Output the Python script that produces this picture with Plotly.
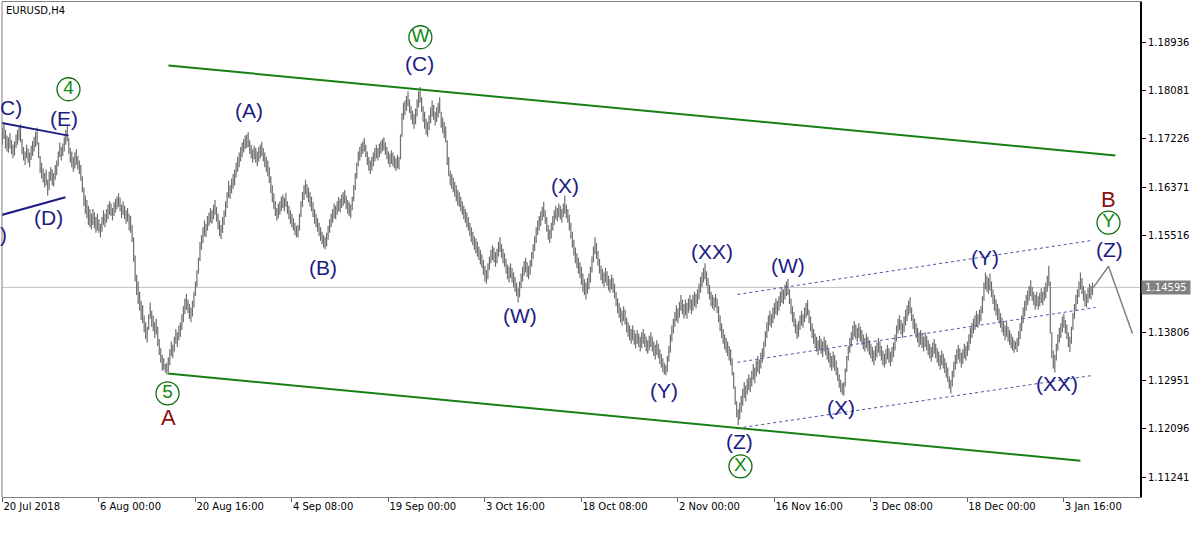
import plotly.graph_objects as go

# ---------------- DATA (EURUSD H4, prices in pips above 1.10000) ----------------
jul_high = [742,750,738,728,725,732,720,712,718,730, 738,744,748,722,708,700,712,705,698,710,
            718,726,735,742,716,692,680,670,662,668, 650,664,672,668,662,676,684,700,716,708,
            714,726,738,747,724,706]
jul_low = [712,722,705,700,698,705,695,688,693,706, 712,720,716,695,684,676,688,680,672,685,
           692,700,708,712,688,662,652,645,636,640, 622,632,648,640,638,650,658,674,690,684,
           692,700,712,718,696,680]

aug_high = [700,690,698,704,692,684,676,656,636,622, 614,604,598,590,598,592,584,590,580,572,
            584,596,590,598,606,612,608,600,610,616, 620,626,618,606,612,604,596,600,590,586,
            570,548,516,482,470,452,436,428,410,398, 390,412,433,418,410,398,404,390,368,352,
            340,334,324,326,336,350,364,358,372,386, 380,392,398,412,426,440,448,438,430,424,
            436,452,470,490,512,540,552,566,578,572, 586,592,600,596,606,614,602,590,578,570,
            584,596,612,628,648,640,652,660,668,680, 690,698,708,716,722,728,730,734,720,712,
            704,710,706,700,708,712,717,706,698,690, 684,672,656,640,626,612,600,608]
aug_low = [672,664,670,676,668,660,648,628,604,590, 582,570,566,562,570,564,556,560,556,548,
           558,570,566,574,580,588,586,578,586,592, 598,602,594,582,588,580,572,576,560,556,
           540,505,470,446,430,418,402,396,380,368, 362,384,404,390,382,370,376,356,340,326,
           312,314,309,306,310,322,338,334,346,360, 354,366,372,384,398,412,420,414,404,398,
           408,424,444,460,484,506,526,538,550,548, 560,568,574,572,580,588,576,562,550,545,
           556,570,584,600,618,616,626,634,640,654, 664,672,682,690,698,704,706,708,696,688,
           680,686,680,674,682,688,692,682,672,664, 656,644,626,610,598,586,578,582]

sep_high = [612,620,624,618,627,612,604,596,590,582, 574,568,570,590,612,628,640,650,642,636,
            628,620,610,598,590,582,574,566,558,552, 548,556,568,580,590,598,608,604,612,620,
            616,624,628,632,622,614,610,606,620,640, 662,680,700,708,714,718,724,712,700,690,
            684,690,698,706,712,706,714,718,722,725, 716,708,700,696,702,698,692,688,694,690,
            730,768,786,790,798,806,792,780,772,766, 776,792,806,814,796,780,770,758,752,764,
            778,790,782,770,778,786,796,770,760,752, 744,720,690,666,660,654,646,640,632,628]
sep_low = [588,594,600,594,602,590,580,572,566,560, 552,548,548,560,584,602,614,624,618,610,
           602,594,584,572,566,558,550,542,536,530, 527,532,544,556,566,574,582,580,588,594,
           592,600,604,608,598,590,586,582,596,612, 632,652,674,684,690,696,700,690,676,666,
           660,666,674,682,688,684,690,696,700,702, 694,686,678,672,678,674,670,666,670,668,
           686,726,756,764,772,780,768,756,748,740, 748,762,778,786,770,752,740,730,726,738,
           750,762,756,746,752,760,768,742,732,724, 716,676,656,640,634,628,620,612,604,602]

oct_high = [620,612,604,598,592,584,574,566,558,550, 546,540,532,526,518,508,498,490,502,514,
            526,534,530,522,528,540,548,536,528,520, 510,500,496,502,494,486,478,468,458,470,
            484,496,506,512,504,498,508,522,536,550, 566,578,586,594,602,611,596,584,570,562,
            574,586,596,604,600,608,604,598,608,622, 606,598,588,574,558,544,530,520,512,504,
            496,484,474,468,476,484,496,514,532,548, 538,524,510,498,492,486,494,488,480,474,
            482,476,466,452,440,432,424,418,426,420, 406,398,392,386,392,384,378,384,378,372,
            380,386,378,372,366,374,380,372,364,358, 366,360,350,342,334,326,322,338]
oct_low = [594,588,580,574,566,560,550,540,534,526, 520,514,508,500,494,482,470,466,474,490,
           502,508,504,496,502,514,522,512,502,496, 484,474,468,476,468,460,452,444,433,442,
           458,470,480,486,478,474,482,496,510,524, 538,552,560,568,578,584,572,558,544,538,
           546,560,570,580,576,584,580,574,584,590, 582,574,560,546,530,516,502,494,484,476,
           464,452,446,438,448,456,468,486,504,518, 510,498,484,472,466,460,468,462,454,450,
           456,450,440,426,414,406,398,392,400,394, 380,372,366,360,366,358,352,360,354,346,
           352,360,354,346,342,348,354,346,338,332, 340,334,324,318,310,306,304,310]

nov_high = [356,376,392,404,416,428,422,434,446,438, 430,438,432,440,446,438,446,452,448,456,
            466,478,486,494,502,488,476,464,452,446, 442,448,440,426,410,396,386,376,370,364,
            356,350,334,310,284,258,244,256,268,280, 292,286,298,306,300,312,324,318,330,338,
            332,344,352,364,382,398,410,418,412,424, 432,440,436,444,452,460,456,464,470,475,
            456,440,426,416,404,394,400,410,418,412, 424,432,437,420,408,396,386,378,372,366,
            374,368,364,372,366,358,350,344,338,346, 340,330,318,306,296,290,292,316,338,356,
            370,380,392,400,394,388,396,390,384,376, 370,378]
nov_low = [328,344,364,378,390,400,396,406,418,412, 404,410,404,414,420,412,418,426,422,430,
           438,450,460,468,474,462,448,438,426,422, 418,424,414,398,382,370,360,350,344,338,
           330,322,304,280,252,230,216,226,238,250, 264,258,270,278,274,284,296,290,302,310,
           306,316,326,336,354,370,382,392,388,396, 404,412,410,418,426,432,430,438,444,446,
           430,412,398,390,378,368,372,384,392,388, 398,406,410,396,382,370,360,352,346,340,
           348,342,336,346,340,332,326,318,312,318, 312,304,294,282,274,270,268,284,310,330,
           344,354,366,372,368,362,370,364,358,350, 346,352]

dec_high = [372,366,360,354,348,356,362,370,364,356, 348,342,350,358,352,346,354,362,376,392,
            404,410,402,396,408,420,428,436,442,424, 412,404,396,388,380,384,378,372,380,374,
            366,360,354,362,368,360,352,346,340,348, 342,334,326,318,302,296,312,328,340,350,
            358,352,344,350,360,356,364,376,388,396, 404,410,418,412,420,426,444,468,486,480,
            476,484,470,456,446,438,430,422,414,406, 400,392,398,390,384,378,372,366,364,370,
            382,396,410,424,436,446,454,462,472,460, 452,446,452,444,450,458,452,460,468,480]
dec_low = [346,340,334,328,322,330,336,344,338,330, 322,318,324,332,326,320,328,336,348,364,
           378,384,376,370,380,392,400,410,414,400, 386,378,370,362,354,358,352,346,354,348,
           340,334,328,336,342,334,326,320,314,322, 316,308,300,292,280,272,284,300,314,324,
           332,326,318,324,334,330,338,348,360,370, 378,384,390,388,394,400,414,436,456,452,
           448,454,442,430,418,410,402,396,388,380, 374,366,372,364,358,352,348,344,350,345,
           356,368,382,396,408,418,428,436,444,436, 428,420,426,420,426,432,428,436,440,452]

jan_high = [498,470,380,348,340,360,376,388,396,408, 413,402,394,380,372,390,414,430,446,456,
            470,486,476,462,454,448,458,466,462,468]
jan_low = [462,378,334,316,309,330,348,362,370,380, 388,378,368,354,345,360,384,404,418,430,
           442,456,448,436,426,424,432,440,438,446]

last_price = 1.14595

date_tick_index = [0, 64, 128, 192, 256, 320, 384, 448, 512, 576, 640, 704]
date_tick_text = ["20 Jul 2018", "6 Aug 00:00", "20 Aug 16:00", "4 Sep 08:00", "19 Sep 00:00",
                  "3 Oct 16:00", "18 Oct 08:00", "2 Nov 00:00", "16 Nov 16:00", "3 Dec 08:00",
                  "18 Dec 00:00", "3 Jan 16:00"]
price_ticks = [1.18936, 1.18081, 1.17226, 1.16371, 1.15516, 1.13806, 1.12951, 1.12096, 1.11241]

# analyst drawings (bar index, pips above 1.10000)
green_upper = ([110.1, 738.2], [852, 693])
green_lower = ([109.6, 715.0], [307, 153])
triangle_upper = ([-1.3, 43.8], [751, 728])
triangle_lower = ([-1.3, 41.8], [587, 619])
dotted_upper = ([487.5, 723.6], [447, 543])
dotted_middle = ([487.5, 725.0], [327, 424])
dotted_lower = ([491.5, 723.6], [212, 304])
projection = ([723.6, 733.6, 749.5], [459.5, 497, 378])

wave_labels = [("(D)", 30.5, 583), ("(E)", 41.1, 758), ("(A)", 163.2, 773), ("(B)", 212.9, 495),
               ("(C)", 276.6, 856), ("(W)", 343.6, 410), ("(X)", 372.8, 640), ("(Y)", 439.1, 277),
               ("(XX)", 470.9, 523), ("(Z)", 488.8, 187), ("(W)", 520.7, 498), ("(X)", 556.5, 247),
               ("(Y)", 652.0, 513), ("(XX)", 699.7, 290), ("(Z)", 734.2, 527)]
red_labels = [("A", 110.1, 229), ("B", 733.6, 615)]
circle_labels = [("4", 43.8, 810), ("5", 109.5, 272), ("W", 277.2, 902), ("X", 489.5, 143), ("Y", 733.6, 574)]
cut_labels = [("C)", 778), (")", 553)]

# ---------------- BUILD ----------------
def px(v):
    return 1.1 + v / 10000.0

bar_high = jul_high + aug_high + sep_high + oct_high + nov_high + dec_high + jan_high
bar_low = jul_low + aug_low + sep_low + oct_low + nov_low + dec_low + jan_low
bar_index = list(range(len(bar_high)))

seg_x, seg_y = [], []
for i, h, l in zip(bar_index, bar_high, bar_low):
    seg_x += [i, i, None]
    seg_y += [px(l), px(h), None]

fig = go.Figure()
fig.add_trace(go.Scatter(x=seg_x, y=seg_y, mode="lines", line=dict(color="#6e6e6e", width=1.2),
                         hoverinfo="skip", showlegend=False))

def add_line(pts, color, width, dash="solid"):
    fig.add_trace(go.Scatter(x=pts[0], y=[px(v) for v in pts[1]], mode="lines",
                             line=dict(color=color, width=width, dash=dash),
                             hoverinfo="skip", showlegend=False))

add_line(green_upper, "#168016", 2)
add_line(green_lower, "#168016", 2)
add_line(triangle_upper, "#1c1c84", 2)
add_line(triangle_lower, "#1c1c84", 2)
add_line(dotted_upper, "#5050a8", 1, "dot")
add_line(dotted_middle, "#5050a8", 1, "dot")
add_line(dotted_lower, "#5050a8", 1, "dot")
add_line(projection, "#808080", 1.5)

fig.add_trace(go.Scatter(
    x=[c[1] for c in circle_labels], y=[px(c[2]) for c in circle_labels],
    mode="markers+text", text=[c[0] for c in circle_labels], textposition="middle center",
    textfont=dict(family="Liberation Sans", size=19, color="#108a10"),
    marker=dict(symbol="circle-open", size=23, color="#107010", line=dict(width=1.3, color="#107010")),
    hoverinfo="skip", showlegend=False))

annotations = []
for t, xi, v in wave_labels:
    annotations.append(dict(x=xi, y=px(v), xref="x", yref="y", text=t, showarrow=False,
                            xanchor="center", yanchor="middle",
                            font=dict(family="Liberation Sans", size=21, color="#1c1c84")))
for t, xi, v in red_labels:
    annotations.append(dict(x=xi, y=px(v), xref="x", yref="y", text=t, showarrow=False,
                            xanchor="center", yanchor="middle",
                            font=dict(family="Liberation Sans", size=22, color="#8b0f0f")))
for t, v in cut_labels:
    annotations.append(dict(x=0, y=px(v), xref="paper", yref="y", text=t, showarrow=False,
                            xanchor="left", yanchor="middle", xshift=-4,
                            font=dict(family="Liberation Sans", size=21, color="#1c1c84")))
annotations.append(dict(x=0, y=1, xref="paper", yref="paper", text="EURUSD,H4", showarrow=False,
                        xanchor="left", yanchor="top", xshift=2, yshift=-1,
                        font=dict(family="DejaVu Sans", size=10, color="black")))
annotations.append(dict(x=1, y=last_price, xref="paper", yref="y", text="%.5f" % last_price,
                        showarrow=False, xanchor="left", yanchor="middle", xshift=1,
                        bgcolor="#808080", borderpad=1, width=46,
                        font=dict(family="DejaVu Sans", size=10, color="white")))

shapes = [
    dict(type="line", xref="paper", yref="y", x0=0, x1=1, y0=last_price, y1=last_price,
         line=dict(color="#c0c0c0", width=1), layer="below"),
    dict(type="line", xref="paper", yref="paper", x0=0, x1=0, y0=0, y1=1,
         line=dict(color="#808080", width=1)),
]

fig.update_layout(
    width=1200, height=544,
    margin=dict(l=2, r=60, t=2, b=47, autoexpand=False),
    paper_bgcolor="white", plot_bgcolor="white",
    showlegend=False,
    annotations=annotations, shapes=shapes,
    xaxis=dict(range=[-0.3, 754.5], tickmode="array", tickvals=date_tick_index,
               ticktext=date_tick_text, ticks="outside", ticklen=4, tickcolor="#606060",
               ticklabelposition="outside right", showgrid=False, zeroline=False,
               showline=True, mirror=True, linecolor="#808080", linewidth=1, automargin=False,
               tickfont=dict(family="DejaVu Sans", size=10, color="black")),
    yaxis=dict(range=[1.108872, 1.196436], side="right", tickmode="array",
               tickvals=price_ticks, ticktext=["%.5f" % p for p in price_ticks],
               ticks="outside", ticklen=4, tickcolor="black", showgrid=False, zeroline=False,
               showline=True, linecolor="black", linewidth=2, automargin=False,
               tickfont=dict(family="DejaVu Sans", size=10, color="black")),
)

fig.write_html("out.html", config={"displayModeBar": False, "staticPlot": True},
               post_script="document.body.style.margin='0';document.body.style.overflow='hidden';")
